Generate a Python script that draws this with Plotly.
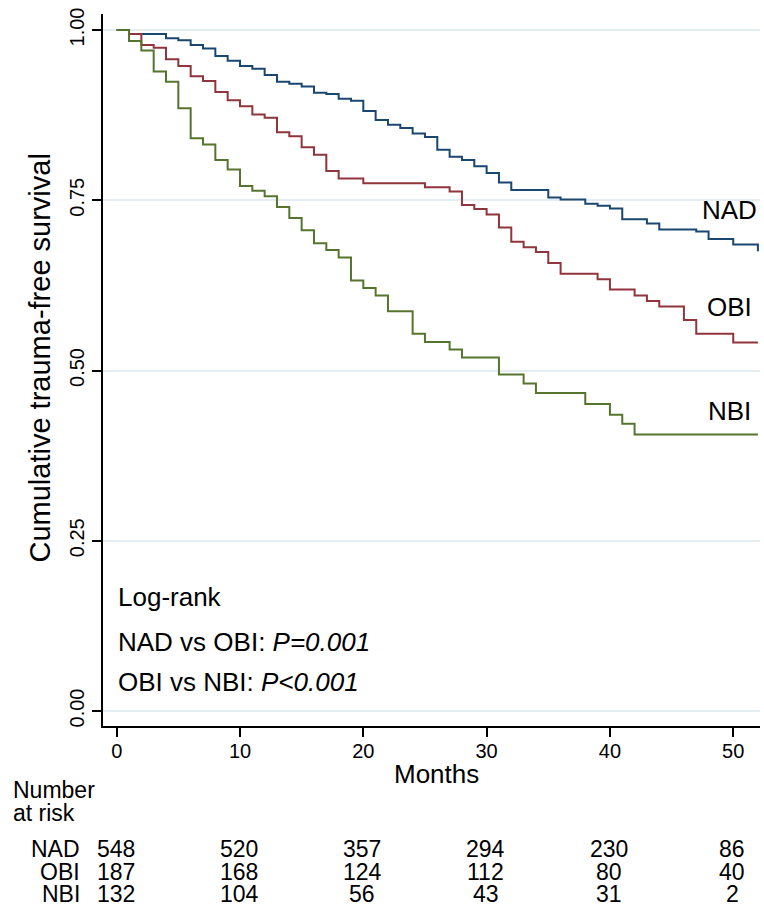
import plotly.graph_objects as go

# ---- data ----
nad_t = [0, 1, 4, 5, 6, 7, 8, 9, 10, 11, 12, 13, 14, 15, 16, 17, 18, 19, 20, 21, 22, 23, 24, 25,
         26, 27, 28, 29, 30, 31, 32, 35, 36, 38, 39, 40, 41, 43, 44, 47, 48, 50, 52]
nad_s = [1.0, 0.994, 0.988, 0.985, 0.978, 0.973, 0.962, 0.955, 0.947, 0.943, 0.934, 0.924, 0.921,
         0.917, 0.908, 0.906, 0.899, 0.896, 0.881, 0.868, 0.861, 0.856, 0.848, 0.843, 0.824, 0.814,
         0.809, 0.800, 0.790, 0.776, 0.765, 0.754, 0.751, 0.745, 0.742, 0.738, 0.722, 0.716, 0.707,
         0.704, 0.693, 0.685, 0.675]

obi_t = [0, 1, 2, 3, 4, 5, 6, 7, 8, 9, 10, 11, 12, 13, 14, 15, 16, 17, 18, 20, 25, 27, 28, 29,
         30, 31, 32, 33, 34, 35, 36, 39, 40, 42, 43, 44, 46, 47, 50, 52]
obi_s = [1.0, 0.994, 0.978, 0.974, 0.957, 0.947, 0.932, 0.925, 0.909, 0.897, 0.888, 0.876, 0.871,
         0.850, 0.844, 0.828, 0.817, 0.793, 0.782, 0.775, 0.769, 0.763, 0.743, 0.737, 0.729, 0.710,
         0.689, 0.681, 0.674, 0.658, 0.642, 0.634, 0.619, 0.610, 0.602, 0.594, 0.574, 0.554, 0.541,
         0.541]

nbi_t = [0, 1, 2, 3, 4, 5, 6, 7, 8, 9, 10, 11, 12, 13, 14, 15, 16, 17, 18, 19, 20, 21, 22, 24,
         25, 27, 28, 31, 33, 34, 38, 40, 41, 42, 52]
nbi_s = [1.0, 0.984, 0.970, 0.939, 0.924, 0.885, 0.841, 0.832, 0.809, 0.795, 0.771, 0.764, 0.756,
         0.740, 0.724, 0.706, 0.687, 0.677, 0.666, 0.632, 0.621, 0.610, 0.587, 0.554, 0.542, 0.531,
         0.519, 0.494, 0.481, 0.467, 0.451, 0.435, 0.422, 0.406, 0.406]

groups = ["NAD", "OBI", "NBI"]
risk_times = [0, 10, 20, 30, 40, 50]
risk_nad = [548, 520, 357, 294, 230, 86]
risk_obi = [187, 168, 124, 112, 80, 40]
risk_nbi = [132, 104, 56, 43, 31, 2]

y_ticks = [0, 0.25, 0.5, 0.75, 1.0]
y_tick_text = ["0.00", "0.25", "0.50", "0.75", "1.00"]
x_ticks = [0, 10, 20, 30, 40, 50]

# curve end labels (position in data coordinates)
label_x = 49.7
label_y = [0.735, 0.593, 0.440]

logrank_lines = ["Log-rank", "NAD vs OBI: <i>P=0.001</i>", "OBI vs NBI: <i>P<0.001</i>"]
logrank_y = [0.167, 0.101, 0.042]

colors = ["#1a476f", "#90353b", "#55752f"]
FONT = "Liberation Sans, Arial, Helvetica, sans-serif"

fig = go.Figure()
for t, s, name, c in zip([nad_t, obi_t, nbi_t], [nad_s, obi_s, nbi_s], groups, colors):
    fig.add_trace(go.Scatter(x=t, y=s, mode="lines", line=dict(shape="hv", color=c, width=2),
                             name=name, showlegend=False, hoverinfo="skip"))

ann = []
# curve labels
for name, yy in zip(groups, label_y):
    ann.append(dict(x=label_x, y=yy, xref="x", yref="y", text=name, showarrow=False,
                    xanchor="center", yanchor="middle", font=dict(size=26, color="black")))
# log-rank text
for txt, yy in zip(logrank_lines, logrank_y):
    ann.append(dict(x=0, y=yy, xref="x", yref="y", text=txt, showarrow=False,
                    xanchor="left", yanchor="middle", xshift=-1, font=dict(size=26, color="black")))
# y title
ann.append(dict(x=0, y=(711 - 359) / 680, xref="paper", yref="y", xshift=-63,
                text="Cumulative trauma-free survival", textangle=-90, showarrow=False,
                xanchor="center", yanchor="middle", font=dict(size=29, color="black")))
# x title
ann.append(dict(x=25.9, y=0, xref="x", yref="paper", yshift=-(774 - 726), text="Months",
                showarrow=False, xanchor="center", yanchor="middle", font=dict(size=26, color="black")))
# number at risk header
ann.append(dict(x=0, y=0, xref="paper", yref="paper", xshift=-103 + 11, yshift=-(790 - 726),
                text="Number", showarrow=False, xanchor="left", yanchor="middle",
                font=dict(size=23, color="black")))
ann.append(dict(x=0, y=0, xref="paper", yref="paper", xshift=-103 + 11, yshift=-(813 - 726),
                text="at risk", showarrow=False, xanchor="left", yanchor="middle",
                font=dict(size=23, color="black")))
row_y = [849, 871.5, 894]
for name, vals, py in zip(groups, [risk_nad, risk_obi, risk_nbi], row_y):
    ann.append(dict(x=0, y=0, xref="paper", yref="paper", xshift=-103 + 82, yshift=-(py - 726),
                    text=name, showarrow=False, xanchor="right", yanchor="middle",
                    font=dict(size=23, color="black")))
    for tt, v in zip(risk_times, vals):
        ann.append(dict(x=tt, y=0, xref="x", yref="paper", yshift=-(py - 726), xshift=-1,
                        text=str(v), showarrow=False, xanchor="center", yanchor="middle",
                        font=dict(size=23, color="black")))

fig.update_layout(
    width=764, height=907,
    margin=dict(l=103, r=4, t=14, b=181),
    paper_bgcolor="white", plot_bgcolor="white",
    font=dict(family=FONT, color="black"),
    annotations=ann,
    xaxis=dict(range=[-1.11, 52.17], tickvals=x_ticks, ticks="outside", ticklen=9, tickwidth=1.5,
               tickcolor="black", showline=True, linecolor="black", linewidth=1.5,
               showgrid=False, zeroline=False, tickfont=dict(size=20, color="black"),
               ticklabelstandoff=-3),
    yaxis=dict(range=[-0.022, 1.0235], tickvals=y_ticks, ticktext=y_tick_text, tickangle=-90,
               ticks="outside", ticklen=9, tickwidth=1.5, tickcolor="black", showline=True,
               linecolor="black", linewidth=1.5, showgrid=True, gridcolor="#e4edf1", gridwidth=1.5,
               zeroline=False, tickfont=dict(size=20, color="black")),
)

fig.write_html(
    "out.html",
    config={"displayModeBar": False},
    post_script="document.body.style.margin='0';document.body.style.overflow='hidden';",
)
